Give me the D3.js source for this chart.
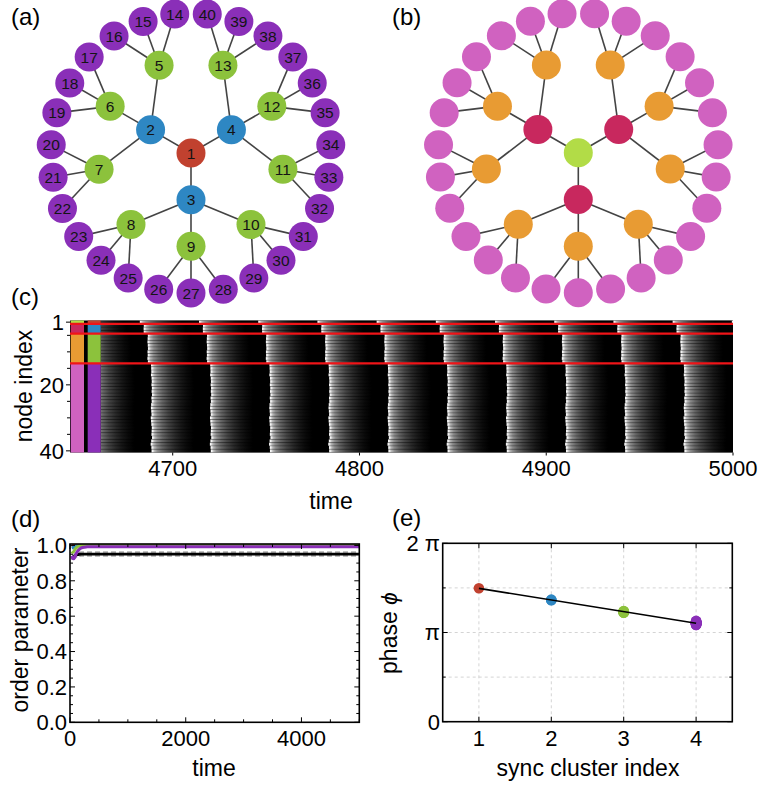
<!DOCTYPE html>
<html>
<head>
<meta charset="utf-8">
<script src="https://cdn.jsdelivr.net/npm/d3@7"></script>
<style>
  body { margin: 0; background: #fff; }
  svg { display: block; }
  text { font-family: "Liberation Sans", Arial, Helvetica, sans-serif; fill: #000; }
</style>
</head>
<body>
<svg id="fig" width="759" height="786"></svg>
<script>
// ---------------- data ----------------
// parent of each node 1..40 in the three-level tree (node 1 is the root)
const nodeParent = [null, 1, 1, 1, 2, 2, 2, 3, 3, 3, 4, 4, 4,
  5, 5, 5, 6, 6, 6, 7, 7, 7, 8, 8, 8, 9, 9, 9, 10, 10, 10,
  11, 11, 11, 12, 12, 12, 13, 13, 13];

// synchronisation cluster of each node
const clusterIndex = [1, 2, 2, 2, 3, 3, 3, 3, 3, 3, 3, 3, 3,
  4, 4, 4, 4, 4, 4, 4, 4, 4, 4, 4, 4, 4, 4, 4, 4, 4, 4, 4, 4, 4, 4, 4, 4, 4, 4, 4];

const clusterColorsA = ["#c1412f", "#2e87c3", "#8cc23c", "#8a2fb8"];
const clusterColorsB = ["#b2dc47", "#c8285e", "#e89b33", "#d062c0"];

// asymptotic phase of every node, in units of pi
const nodePhase = [1.496,
  1.362, 1.368, 1.365,
  1.226, 1.232, 1.238, 1.228, 1.222, 1.236, 1.230, 1.240, 1.224,
  1.118, 1.112, 1.108, 1.120, 1.100, 1.094, 1.104, 1.090, 1.098,
  1.086, 1.106, 1.096, 1.114, 1.122, 1.110, 1.102, 1.126, 1.116,
  1.108, 1.092, 1.098, 1.104, 1.084, 1.112, 1.130, 1.106, 1.100];

// oscillation period and the time at which phase zero fires
const oscPeriod = 31.7;
const phaseRefTime = 4706.1;

const heatDomain = [4645, 5000];
const heatTicks = [4700, 4800, 4900, 5000];
const rowTicks = [1, 20, 40];
const rowMinorTicks = [5, 10, 15, 25, 30, 35];

// order parameters versus time
const orderTime  = [30, 45, 60, 80, 100, 130, 160, 200, 250, 300, 400, 600, 1000, 2000, 3000, 4000, 5000];
const rGlobal    = [0.935, 0.934, 0.935, 0.940, 0.944, 0.948, 0.950, 0.951, 0.951, 0.951, 0.951, 0.951, 0.951, 0.951, 0.951, 0.951, 0.951];
const rCluster1  = [1, 1, 1, 1, 1, 1, 1, 1, 1, 1, 1, 1, 1, 1, 1, 1, 1];
const rCluster2  = [0.985, 0.987, 0.990, 0.994, 0.997, 0.999, 1, 1, 1, 1, 1, 1, 1, 1, 1, 1, 1];
const rCluster3  = [0.966, 0.962, 0.964, 0.974, 0.984, 0.992, 0.996, 0.999, 1, 1, 1, 1, 1, 1, 1, 1, 1];
const rCluster4  = [0.940, 0.928, 0.924, 0.932, 0.948, 0.966, 0.978, 0.986, 0.990, 0.992, 0.993, 0.993, 0.993, 0.993, 0.993, 0.993, 0.993];
const orderTicksX = [0, 2000, 4000];
const orderTicksY = [0, 0.2, 0.4, 0.6, 0.8, 1.0];

const phaseTickVals = [0, 1, 2];
const phaseTickLabels = ["0", "\u03C0", "2 \u03C0"];
const clusterTicks = [1, 2, 3, 4];

// ---------------- drawing ----------------
const svg = d3.select("#fig");
const defs = svg.append("defs");

function label(txt, x, y, size, anchor) {
  return svg.append("text").attr("x", x).attr("y", y)
    .attr("font-size", size).attr("text-anchor", anchor || "start").text(txt);
}

// panel letters
label("(a)", 11, 25, 24);
label("(b)", 392, 25, 24);
label("(c)", 11, 305, 24);
label("(d)", 11, 527, 24);
label("(e)", 392, 526, 24);

// ---------- (a), (b): radial tree ----------
const treeRows = nodeParent.map((p, i) => ({ id: String(i + 1), parent: p == null ? null : String(p) }));
const root = d3.stratify().id(d => d.id).parentId(d => d.parent)(treeRows);
d3.cluster().size([360, 140]).separation(() => 1)(root);

function project(node, cx, cy) {
  const a = (270 - node.x) * Math.PI / 180;
  return [cx + node.y * Math.cos(a), cy + node.y * Math.sin(a)];
}

function drawNetwork(cx, cy, colors, withLabels) {
  const g = svg.append("g");
  g.selectAll("line").data(root.links()).join("line")
    .attr("x1", d => project(d.source, cx, cy)[0])
    .attr("y1", d => project(d.source, cx, cy)[1])
    .attr("x2", d => project(d.target, cx, cy)[0])
    .attr("y2", d => project(d.target, cx, cy)[1])
    .attr("stroke", "#444").attr("stroke-width", 1.6);
  const nodes = root.descendants();
  g.selectAll("circle").data(nodes).join("circle")
    .attr("cx", d => project(d, cx, cy)[0])
    .attr("cy", d => project(d, cx, cy)[1])
    .attr("r", 14.5)
    .attr("fill", d => colors[clusterIndex[+d.id - 1] - 1]);
  if (withLabels) {
    g.selectAll("text").data(nodes).join("text")
      .attr("x", d => project(d, cx, cy)[0])
      .attr("y", d => project(d, cx, cy)[1])
      .attr("dy", "0.36em")
      .attr("text-anchor", "middle")
      .attr("font-size", 15.5)
      .style("fill", "#141414")
      .text(d => d.id);
  }
}
drawNetwork(191, 153, clusterColorsA, true);
drawNetwork(578.3, 152.8, clusterColorsB, false);

// ---------- (c): space-time plot ----------
const hx0 = 70, hx1 = 733, hy0 = 320.5, hy1 = 452.5;
const xHeat = d3.scaleLinear().domain(heatDomain).range([hx0, hx1]);
const yHeat = d3.scaleBand().domain(d3.range(1, 41)).range([hy0, hy1]);
const stripeStartX = 100.7;

// brightness profile of one firing cycle (fraction of period -> grey level)
const waveProfile = [[0, 1.0], [0.02, 0.95], [0.05, 0.72], [0.1, 0.55], [0.18, 0.4],
  [0.28, 0.27], [0.4, 0.16], [0.5, 0.09], [0.6, 0.04], [0.68, 0.01], [0.72, 0], [1, 0]];
const grad = defs.append("linearGradient").attr("id", "wave")
  .attr("x1", 0).attr("x2", 1).attr("y1", 0).attr("y2", 0);
waveProfile.forEach(([o, b]) => {
  const v = Math.round(b * 255);
  grad.append("stop").attr("offset", o).attr("stop-color", `rgb(${v},${v},${v})`);
});
defs.append("clipPath").attr("id", "heatClip").append("rect")
  .attr("x", stripeStartX).attr("y", hy0).attr("width", hx1 - stripeStartX).attr("height", hy1 - hy0);

svg.append("rect").attr("x", hx0).attr("y", hy0).attr("width", hx1 - hx0).attr("height", hy1 - hy0)
  .attr("fill", "#000");

const stripes = [];
nodePhase.forEach((ph, i) => {
  const base = phaseRefTime - ph / 2 * oscPeriod;
  for (let n = -2; n <= 12; n++) {
    const t0 = base + n * oscPeriod;
    if (t0 + oscPeriod > heatDomain[0] && t0 < heatDomain[1]) stripes.push({ node: i + 1, t0 });
  }
});
const heatG = svg.append("g").attr("clip-path", "url(#heatClip)");
heatG.selectAll("rect").data(stripes).join("rect")
  .attr("x", d => xHeat(d.t0))
  .attr("width", d => xHeat(d.t0 + oscPeriod) - xHeat(d.t0))
  .attr("y", d => yHeat(d.node))
  .attr("height", yHeat.bandwidth() + 0.05)
  .attr("fill", "url(#wave)");
// faint separators between the node rows
heatG.selectAll("line").data(d3.range(2, 41)).join("line")
  .attr("x1", stripeStartX).attr("x2", hx1)
  .attr("y1", d => yHeat(d)).attr("y2", d => yHeat(d))
  .attr("stroke", "rgba(0,0,0,0.45)").attr("stroke-width", 0.6);

// cluster membership columns
const clusterRanges = d3.range(1, 5).map(c => {
  const idx = d3.range(1, 41).filter(n => clusterIndex[n - 1] === c);
  return { c, first: d3.min(idx), last: d3.max(idx) };
});
[[70.7, 84, clusterColorsB], [87.7, 100.7, clusterColorsA]].forEach(([xa, xb, cols]) => {
  svg.append("g").selectAll("rect").data(clusterRanges).join("rect")
    .attr("x", xa).attr("width", xb - xa)
    .attr("y", d => yHeat(d.first))
    .attr("height", d => yHeat(d.last) + yHeat.bandwidth() - yHeat(d.first))
    .attr("fill", d => cols[d.c - 1]);
});

// cluster boundaries
svg.append("g").selectAll("line").data(clusterRanges.slice(1)).join("line")
  .attr("x1", hx0).attr("x2", hx1)
  .attr("y1", d => yHeat(d.first)).attr("y2", d => yHeat(d.first))
  .attr("stroke", "#f01418").attr("stroke-width", 2.2);

// axes of (c)
const rowCenter = n => yHeat(n) + yHeat.bandwidth() / 2;
svg.append("g").selectAll("line").data(rowTicks.concat(rowMinorTicks)).join("line")
  .attr("x1", d => rowTicks.includes(d) ? hx0 - 4 : hx0 - 3).attr("x2", hx0)
  .attr("y1", rowCenter).attr("y2", rowCenter)
  .attr("stroke", "#000").attr("stroke-width", 1);
svg.append("g").selectAll("text").data(rowTicks).join("text")
  .attr("x", 64).attr("y", rowCenter).attr("dy", "0.36em")
  .attr("text-anchor", "end").attr("font-size", 22).text(d => d);
svg.append("g").selectAll("line").data(heatTicks).join("line")
  .attr("x1", xHeat).attr("x2", xHeat).attr("y1", hy1).attr("y2", hy1 + 3)
  .attr("stroke", "#000").attr("stroke-width", 1);
svg.append("g").selectAll("text").data(heatTicks).join("text")
  .attr("x", xHeat).attr("y", 476).attr("text-anchor", "middle").attr("font-size", 22)
  .text(d => d);
label("time", 331, 509, 23, "middle");
svg.append("text").attr("transform", "translate(32,386) rotate(-90)")
  .attr("text-anchor", "middle").attr("font-size", 23).text("node index");

// ---------- (d): order parameters ----------
const dx0 = 70, dx1 = 359.3, dy0 = 544, dy1 = 722.3;
const xOrd = d3.scaleLinear().domain([0, 5000]).range([dx0, dx1]);
const yOrd = d3.scaleLinear().domain([0, 1.008]).range([dy1, dy0]);
const ordLine = d3.line().x((d, i) => xOrd(orderTime[i])).y(d => yOrd(d)).curve(d3.curveMonotoneX);

const dg = svg.append("g");
dg.append("path").attr("d", ordLine(rGlobal)).attr("fill", "none")
  .attr("stroke", "#b0b0b0").attr("stroke-width", 5.5).attr("stroke-dasharray", "5 3");
dg.append("path").attr("d", ordLine(rGlobal)).attr("fill", "none")
  .attr("stroke", "#000").attr("stroke-width", 2.8);
[[rCluster1, 0], [rCluster2, 1], [rCluster3, 2], [rCluster4, 3]].forEach(([arr, c]) => {
  dg.append("path").attr("d", ordLine(arr)).attr("fill", "none")
    .attr("stroke", clusterColorsA[c]).attr("stroke-width", 3);
});

function frameTicks(g, xs, ys, x0, x1, y0, y1, xScale, yScale, majX, majY) {
  g.selectAll(".tx").data(xs).join("g").each(function(v) {
    const len = majX.includes(v) ? 5 : 3;
    const x = xScale(v);
    d3.select(this).append("line").attr("x1", x).attr("x2", x).attr("y1", y1).attr("y2", y1 - len);
    d3.select(this).append("line").attr("x1", x).attr("x2", x).attr("y1", y0).attr("y2", y0 + len);
  });
  g.selectAll(".ty").data(ys).join("g").each(function(v) {
    const len = majY.includes(v) ? 5 : 3;
    const y = yScale(v);
    d3.select(this).append("line").attr("x1", x0).attr("x2", x0 + len).attr("y1", y).attr("y2", y);
    d3.select(this).append("line").attr("x1", x1).attr("x2", x1 - len).attr("y1", y).attr("y2", y);
  });
  g.selectAll("line").attr("stroke", "#000").attr("stroke-width", 1);
}
const dTicks = svg.append("g");
frameTicks(dTicks, d3.range(0, 5001, 500), d3.range(0, 21).map(k => +(k * 0.05).toFixed(2)),
  dx0, dx1, dy0, dy1, xOrd, yOrd, orderTicksX, orderTicksY);
svg.append("rect").attr("x", dx0).attr("y", dy0).attr("width", dx1 - dx0).attr("height", dy1 - dy0)
  .attr("fill", "none").attr("stroke", "#000").attr("stroke-width", 1.6);
svg.append("g").selectAll("text").data(orderTicksY).join("text")
  .attr("x", 67).attr("y", d => yOrd(d)).attr("dy", "0.36em")
  .attr("text-anchor", "end").attr("font-size", 22).text(d => d.toFixed(1));
svg.append("g").selectAll("text").data(orderTicksX).join("text")
  .attr("x", xOrd).attr("y", 746).attr("text-anchor", "middle").attr("font-size", 22).text(d => d);
label("time", 214, 776, 23, "middle");
svg.append("text").attr("transform", "translate(28,630) rotate(-90)")
  .attr("text-anchor", "middle").attr("font-size", 23).text("order parameter");

// ---------- (e): cluster phases ----------
const ex0 = 442.7, ex1 = 732.3, ey0 = 543.3, ey1 = 721.7;
const xPh = d3.scaleLinear().domain([0.5, 4.5]).range([ex0, ex1]);
const yPh = d3.scaleLinear().domain([0, 2]).range([ey1, ey0]);

const eg = svg.append("g");
eg.selectAll(".gx").data(clusterTicks).join("line")
  .attr("x1", xPh).attr("x2", xPh).attr("y1", ey0).attr("y2", ey1);
eg.selectAll(".gy").data([0.5, 1, 1.5]).join("line")
  .attr("x1", ex0).attr("x2", ex1).attr("y1", yPh).attr("y2", yPh);
eg.selectAll("line").attr("stroke", "#d4d4d4").attr("stroke-width", 1).attr("stroke-dasharray", "3 3");

// least-squares line through the cluster mean phases
const clusterMeans = d3.range(1, 5).map(c =>
  d3.mean(nodePhase.filter((p, i) => clusterIndex[i] === c)));
const kMean = d3.mean(clusterTicks), pMean = d3.mean(clusterMeans);
const slope = d3.sum(clusterTicks, (k, i) => (k - kMean) * (clusterMeans[i] - pMean)) /
  d3.sum(clusterTicks, k => (k - kMean) ** 2);
const icpt = pMean - slope * kMean;

svg.append("g").selectAll("circle").data(nodePhase).join("circle")
  .attr("cx", (p, i) => xPh(clusterIndex[i]))
  .attr("cy", p => yPh(p))
  .attr("r", 5.3)
  .attr("fill", (p, i) => clusterColorsA[clusterIndex[i] - 1]);
svg.append("line")
  .attr("x1", xPh(1)).attr("y1", yPh(icpt + slope))
  .attr("x2", xPh(4)).attr("y2", yPh(icpt + 4 * slope))
  .attr("stroke", "#000").attr("stroke-width", 1.6);

const eTicks = svg.append("g");
frameTicks(eTicks, clusterTicks, [0, 0.5, 1, 1.5, 2], ex0, ex1, ey0, ey1, xPh, yPh, clusterTicks, phaseTickVals);
svg.append("rect").attr("x", ex0).attr("y", ey0).attr("width", ex1 - ex0).attr("height", ey1 - ey0)
  .attr("fill", "none").attr("stroke", "#000").attr("stroke-width", 1.6);
svg.append("g").selectAll("text").data(phaseTickVals).join("text")
  .attr("x", 440).attr("y", d => yPh(d)).attr("dy", "0.36em")
  .attr("text-anchor", "end").attr("font-size", 22).text((d, i) => phaseTickLabels[i]);
svg.append("g").selectAll("text").data(clusterTicks).join("text")
  .attr("x", xPh).attr("y", 746).attr("text-anchor", "middle").attr("font-size", 22).text(d => d);
label("sync cluster index", 588, 776, 23, "middle");
const yl = svg.append("text").attr("transform", "translate(397,633) rotate(-90)")
  .attr("text-anchor", "middle").attr("font-size", 23);
yl.append("tspan").text("phase ");
yl.append("tspan").attr("font-style", "italic").text("\u03D5");
</script>
</body>
</html>
